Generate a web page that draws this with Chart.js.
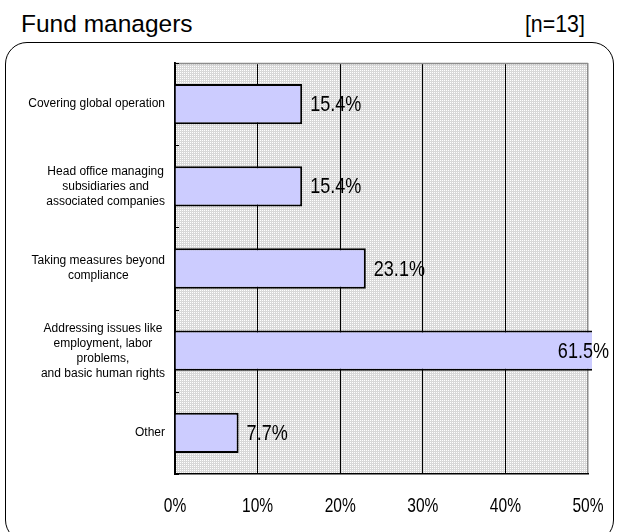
<!DOCTYPE html>
<html>
<head>
<meta charset="utf-8">
<script src="https://cdn.jsdelivr.net/npm/chart.js@4"></script>
<style>
  html, body { margin: 0; padding: 0; background: #fff; }
  #wrap { position: relative; width: 620px; height: 532px; overflow: hidden; }
  #box { position: absolute; left: 5px; top: 42px; width: 609px; height: 500px;
         border: 1.5px solid #000; border-radius: 22px; box-sizing: border-box; }
  .ttl { position: absolute; top: 9px; font-family: "Liberation Sans", "DejaVu Sans", sans-serif;
         font-size: 24.5px; color: #000; line-height: 30px; white-space: nowrap; }
  #title { left: 21px; }
  #n { right: 35px; transform: scaleX(0.87); transform-origin: right center; }
  canvas { position: absolute; left: 0; top: 0; }
</style>
</head>
<body>
<div id="wrap">
  <div id="box"></div>
  <div class="ttl" id="title">Fund managers</div>
  <div class="ttl" id="n">[n=13]</div>
  <canvas id="c" width="620" height="532"></canvas>
</div>
<script>
const categories = [
  ["Covering global operation"],
  ["Head office managing", "subsidiaries and", "associated companies"],
  ["Taking measures beyond", "compliance"],
  ["Addressing issues like", "employment, labor", "problems,", "and basic human rights"],
  ["Other"]
];
const values = [15.4, 15.4, 23.1, 61.5, 7.7];
const xTicks = [0, 10, 20, 30, 40, 50];

const FONT = '"Liberation Sans", "DejaVu Sans", sans-serif';

function makePattern(ctx) {
  const p = document.createElement('canvas');
  p.width = 2; p.height = 2;
  const pc = p.getContext('2d');
  pc.fillStyle = '#d8d8d8';
  pc.fillRect(0, 0, 2, 2);
  pc.fillStyle = '#ffffff';
  pc.fillRect(0, 0, 1, 1);
  return ctx.createPattern(p, 'repeat');
}

// draw text squeezed horizontally (to mimic the narrow original face)
function narrowText(ctx, txt, x, y, sx, align) {
  ctx.save();
  ctx.translate(x, y);
  ctx.scale(sx, 1);
  ctx.textAlign = align;
  ctx.fillText(txt, 0, 0);
  ctx.restore();
}

const decor = {
  id: 'decor',
  beforeDraw(chart) {
    const {ctx, chartArea: a} = chart;
    ctx.save();
    ctx.fillStyle = makePattern(ctx);
    ctx.fillRect(a.left, a.top, a.right - a.left, a.bottom - a.top);
    ctx.restore();
  },
  beforeDatasetsDraw(chart) {
    const {ctx, chartArea: a} = chart;
    ctx.save();
    ctx.strokeStyle = '#8c8c8c';
    ctx.lineWidth = 1.5;
    ctx.beginPath();
    ctx.moveTo(a.left, a.top + 0.5);
    ctx.lineTo(a.right, a.top + 0.5);
    ctx.stroke();
    ctx.restore();
  },
  afterDatasetsDraw(chart) {
    const {ctx, chartArea: a} = chart;
    const meta = chart.getDatasetMeta(0);
    ctx.save();
    ctx.fillStyle = '#000';
    ctx.font = '22px ' + FONT;
    ctx.textBaseline = 'middle';
    meta.data.forEach((bar, i) => {
      const txt = values[i].toFixed(1) + '%';
      if (bar.x > a.right) {
        narrowText(ctx, txt, a.right + 21, bar.y + 1, 0.82, 'right');
      } else {
        narrowText(ctx, txt, bar.x + 8, bar.y + 1, 0.82, 'left');
      }
    });
    // x tick labels
    const xs = chart.scales.x;
    ctx.font = '21px ' + FONT;
    xs.ticks.forEach(t => {
      narrowText(ctx, t.value + '%', xs.getPixelForValue(t.value), a.bottom + 32, 0.74, 'center');
    });
    // y axis: inside tick marks at category boundaries
    const ys = chart.scales.y;
    ctx.strokeStyle = '#000';
    ctx.lineWidth = 1;
    for (let i = 0; i <= categories.length; i++) {
      const y = Math.round(ys.getPixelForValue(i - 0.5)) + 0.5;
      ctx.beginPath();
      ctx.moveTo(a.left, y);
      ctx.lineTo(a.left + 4, y);
      ctx.stroke();
    }
    // category labels: block right aligned, lines centered within block
    ctx.font = '12px ' + FONT;
    ctx.textAlign = 'center';
    ctx.textBaseline = 'middle';
    const lh = 15;
    categories.forEach((lines, i) => {
      const w = Math.max(...lines.map(l => ctx.measureText(l).width));
      const cx = a.left - 10 - w / 2;
      const cy = ys.getPixelForValue(i);
      const y0 = cy - (lines.length - 1) * lh / 2;
      lines.forEach((l, k) => ctx.fillText(l, cx, y0 + k * lh));
    });
    ctx.restore();
  }
};

new Chart(document.getElementById('c'), {
  type: 'bar',
  data: {
    labels: categories,
    datasets: [{
      data: values,
      backgroundColor: '#ccccff',
      borderColor: '#000',
      borderWidth: 2,
      borderSkipped: 'start',
      barPercentage: 0.49,
      categoryPercentage: 1,
      clip: {left: 5, top: 5, right: 4, bottom: 5}
    }]
  },
  options: {
    indexAxis: 'y',
    responsive: false,
    animation: false,
    devicePixelRatio: 1,
    layout: { padding: { left: 0, top: 63, right: 32, bottom: 0 } },
    plugins: { legend: { display: false }, tooltip: { enabled: false } },
    scales: {
      x: {
        min: xTicks[0],
        max: xTicks[xTicks.length - 1],
        afterBuildTicks(scale) { scale.ticks = xTicks.map(v => ({value: v})); },
        ticks: { display: false },
        grid: {
          color: ctx => (ctx.tick && ctx.tick.value === 50) ? '#8c8c8c' : '#000',
          lineWidth: ctx => (ctx.tick && ctx.tick.value === 50) ? 1.5 : 1,
          drawTicks: false
        },
        border: { color: '#000', width: 1.5 },
        afterFit(scale) { scale.height = 58; }
      },
      y: {
        ticks: { display: false },
        grid: { display: false },
        border: { color: '#000', width: 2 },
        afterFit(scale) { scale.width = 175; }
      }
    }
  },
  plugins: [decor]
});
</script>
</body>
</html>
